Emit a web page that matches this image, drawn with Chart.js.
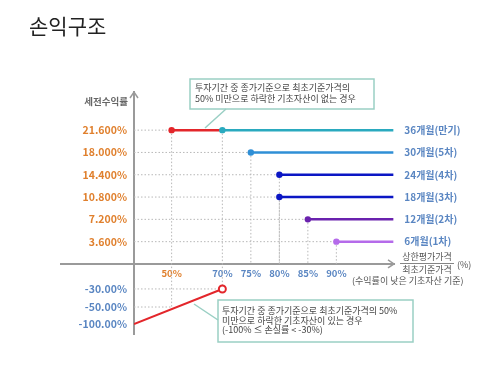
<!DOCTYPE html>
<html>
<head>
<meta charset="utf-8">
<script src="https://cdn.jsdelivr.net/npm/chart.js@4.4.1/dist/chart.umd.min.js"></script>
<style>
  html, body { margin: 0; padding: 0; background: #fff; }
</style>
</head>
<body>
<canvas id="chart" width="504" height="366"></canvas>
<script>
// ---- data ----
const periodLabels = ['36개월(만기)', '30개월(5차)', '24개월(4차)', '18개월(3차)', '12개월(2차)', '6개월(1차)'];
const couponRates = [21.6, 18.0, 14.4, 10.8, 7.2, 3.6];    // 세전수익률 (%)
const exerciseLevels = [70, 75, 80, 80, 85, 90];          // 상환평가가격 / 최초기준가격 (%)
const priceTicks = [50, 70, 75, 80, 85, 90];
const lossTicks = [-30, -50, -100];
const knockInLevel = 50;
const knockInLoss = -50;
const lossPrices = [0, 70];
const lossRates = [-100, -30];
const priceMax = 100;

const fontFamily = "'Noto Sans CJK KR', 'Noto Sans', sans-serif";
const orange = '#E0802E';
const steel = '#5A86C2';
const red = '#E3262B';
const axisGrey = '#9a9a9a';
const guideGrey = '#b8b8b8';
const lineColors = ['#2AAABF', '#2F8FD6', '#0B16C4', '#0B16C4', '#6A22AE', '#B56BEA'];

// the picture squeezes both axes: 0-50-70 compressed on x, losses compressed on y
function xPos(p) {
  if (p >= 70) return 3.1 + (p - 70) / 5;
  if (p >= 50) return 1.32 + (p - 50) / 20 * 1.78;
  return p / 50 * 1.32;
}
function yPos(r) {
  if (r >= 0) return r / 3.6;
  if (r >= -30) return r / 30 * 1.12;
  if (r >= -50) return -1.12 + (r + 30) / 20 * 0.81;
  return -1.93 + (r + 50) / 50 * 0.76;
}
const pt = (p, r) => ({ x: xPos(p), y: yPos(r) });

const guide = (a, b) => ({
  data: [a, b], borderColor: guideGrey, borderWidth: 1, borderDash: [1.5, 2],
  pointRadius: 0, order: 10
});

const datasets = [];
couponRates.forEach((r, i) => {
  const lvl = exerciseLevels[i];
  if (i === 0) {
    datasets.push(guide(pt(0, r), pt(knockInLevel, r)));
    datasets.push(guide(pt(knockInLevel, r), pt(knockInLevel, knockInLoss)));
    datasets.push(guide(pt(lvl, r), pt(lvl, lossRates[1])));
  } else {
    datasets.push(guide(pt(0, r), pt(lvl, r)));
    datasets.push(guide(pt(lvl, r), pt(lvl, 0)));
  }
});
datasets.push(guide(pt(0, lossRates[1]), pt(lossPrices[1], lossRates[1])));
datasets.push(guide(pt(0, knockInLoss), pt(knockInLevel, knockInLoss)));

couponRates.forEach((r, i) => {
  datasets.push({
    data: [pt(exerciseLevels[i], r), pt(priceMax, r)],
    borderColor: lineColors[i], borderWidth: 2.5,
    pointRadius: [3.2, 0], pointBackgroundColor: lineColors[i], pointBorderWidth: 0,
    order: 5
  });
});
// no knock-in case at maturity
datasets.push({
  data: [pt(knockInLevel, couponRates[0]), pt(exerciseLevels[0], couponRates[0])],
  borderColor: red, borderWidth: 2.5,
  pointRadius: [3.2, 0], pointBackgroundColor: red, pointBorderWidth: 0,
  order: 6
});
// knock-in loss line
datasets.push({
  data: lossPrices.map((p, i) => pt(p, lossRates[i])),
  borderColor: red, borderWidth: 2,
  pointRadius: [0, 3.5], pointBackgroundColor: '#fff', pointBorderColor: red, pointBorderWidth: 2,
  order: 1
});

const annotations = {
  id: 'annotations',
  afterDraw(chart) {
    const { ctx, chartArea, scales: { x, y } } = chart;
    const X = p => x.getPixelForValue(xPos(p));
    const Y = r => y.getPixelForValue(yPos(r));
    const ox = X(0), oy = Y(0);
    ctx.save();

    ctx.fillStyle = '#222';
    ctx.font = `21px ${fontFamily}`;
    ctx.textAlign = 'left';
    ctx.textBaseline = 'middle';
    ctx.fillText('손익구조', 29, 26);

    // x axis continues left of the y axis, plus arrow heads
    ctx.strokeStyle = axisGrey;
    ctx.lineWidth = 2;
    ctx.beginPath();
    ctx.moveTo(60, oy);
    ctx.lineTo(ox, oy);
    ctx.stroke();
    ctx.lineWidth = 1.5;
    ctx.beginPath();
    ctx.moveTo(ox - 4, chartArea.top + 6);
    ctx.lineTo(ox, chartArea.top);
    ctx.lineTo(ox + 4, chartArea.top + 6);
    ctx.moveTo(chartArea.right - 6, oy - 4);
    ctx.lineTo(chartArea.right, oy);
    ctx.lineTo(chartArea.right - 6, oy + 4);
    ctx.stroke();

    ctx.fillStyle = '#666';
    ctx.font = `bold 9.5px ${fontFamily}`;
    ctx.textAlign = 'right';
    ctx.fillText('세전수익률', ox - 6, 101);

    ctx.fillStyle = steel;
    ctx.font = `bold 10px ${fontFamily}`;
    ctx.textAlign = 'left';
    couponRates.forEach((r, i) => ctx.fillText(periodLabels[i], X(priceMax) + 11, Y(r)));

    // x axis caption
    ctx.fillStyle = '#555';
    ctx.font = `9px ${fontFamily}`;
    ctx.textAlign = 'center';
    ctx.fillText('상한평가가격', 427, 257);
    ctx.fillText('최초기준가격', 427, 270);
    ctx.strokeStyle = '#666';
    ctx.lineWidth = 0.8;
    ctx.beginPath();
    ctx.moveTo(400, 263.5);
    ctx.lineTo(454, 263.5);
    ctx.stroke();
    ctx.textAlign = 'left';
    ctx.fillText('(%)', 457, 265);
    ctx.fillText('(수익률이 낮은 기초자산 기준)', 352, 281);

    // callouts
    const boxColor = '#9ACFC4';
    ctx.strokeStyle = boxColor;
    ctx.lineWidth = 1.5;
    ctx.fillStyle = '#fff';
    ctx.fillRect(190, 79, 184, 30);
    ctx.strokeRect(190, 79, 184, 30);
    ctx.beginPath();
    ctx.moveTo(226, 109);
    ctx.lineTo(205, 128);
    ctx.stroke();

    ctx.fillRect(218, 300, 195, 42);
    ctx.strokeRect(218, 300, 195, 42);
    ctx.beginPath();
    ctx.moveTo(194, 304);
    ctx.lineTo(218, 320);
    ctx.stroke();

    ctx.fillStyle = '#444';
    ctx.font = `9px ${fontFamily}`;
    ctx.textAlign = 'left';
    ctx.fillText('투자기간 중 종가기준으로 최초기준가격의', 195, 88);
    ctx.fillText('50% 미만으로 하락한 기초자산이 없는 경우', 195, 99);
    ctx.fillText('투자기간 중 종가기준으로 최초기준가격의 50%', 222, 311);
    ctx.fillText('미만으로 하락한 기초자산이 있는 경우', 222, 320.5);
    ctx.fillText('(-100% ≤ 손실률 < -30%)', 222, 330);
    ctx.restore();
  }
};

new Chart(document.getElementById('chart'), {
  type: 'line',
  data: { datasets },
  options: {
    responsive: false,
    animation: false,
    layout: { padding: { left: 0, right: 110, top: 92, bottom: 32 } },
    elements: { line: { tension: 0 } },
    plugins: { legend: { display: false }, tooltip: { enabled: false } },
    scales: {
      x: {
        type: 'linear', min: 0, max: 9.123, position: { y: 0 },
        grid: { display: false, drawTicks: false },
        border: { display: true, color: axisGrey, width: 2 },
        afterBuildTicks: s => { s.ticks = priceTicks.map(p => ({ value: xPos(p) })); },
        ticks: {
          autoSkip: false, maxRotation: 0, padding: 4,
          font: { family: fontFamily, size: 9.5, weight: 'bold' },
          color: c => priceTicks[c.index] === knockInLevel ? orange : steel,
          callback: (v, i) => priceTicks[i] + '%'
        }
      },
      y: {
        type: 'linear', min: -3.14, max: 7.71, position: 'left',
        afterFit: s => { s.width = 134; },
        grid: { display: false, drawTicks: false },
        border: { display: true, color: axisGrey, width: 2 },
        afterBuildTicks: s => {
          s.ticks = couponRates.concat(lossTicks).map(r => ({ value: yPos(r) }));
        },
        ticks: {
          autoSkip: false, padding: 7,
          font: { family: fontFamily, size: 10.5, weight: 'bold' },
          color: c => c.index < couponRates.length ? orange : steel,
          callback: (v, i) => {
            const r = couponRates.concat(lossTicks)[i];
            return r >= 0 ? r.toFixed(3) + '%' : r.toFixed(2) + '%';
          }
        }
      }
    }
  },
  plugins: [annotations]
});
</script>
</body>
</html>
